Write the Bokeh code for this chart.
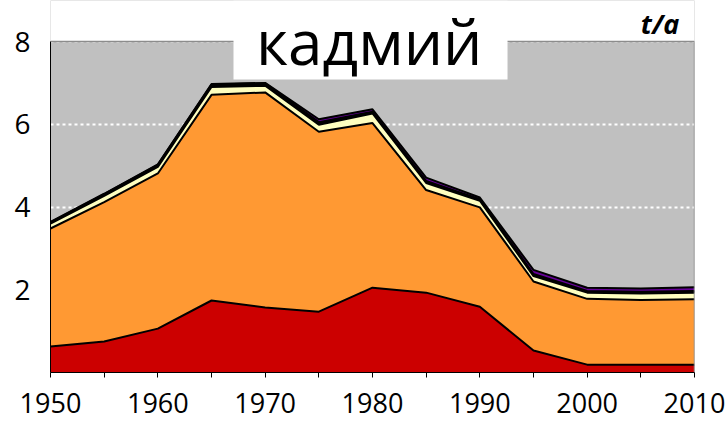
from bokeh.plotting import figure
from bokeh.models import ColumnDataSource, FixedTicker, Label, Range1d
from bokeh.embed import file_html
from bokeh.resources import INLINE

# ---- data (t/a) ----
years = [1950, 1955, 1960, 1965, 1970, 1975, 1980, 1985, 1990, 1995, 2000, 2005, 2010]
red = [0.63, 0.75, 1.06, 1.74, 1.57, 1.47, 2.05, 1.93, 1.59, 0.53, 0.19, 0.19, 0.19]
orange = [2.85, 3.37, 3.75, 4.97, 5.20, 4.35, 3.98, 2.48, 2.40, 1.67, 1.59, 1.56, 1.58]
cream = [0.12, 0.15, 0.16, 0.19, 0.16, 0.17, 0.23, 0.17, 0.16, 0.13, 0.15, 0.16, 0.16]
black = [0.03, 0.04, 0.05, 0.06, 0.06, 0.06, 0.04, 0.05, 0.04, 0.05, 0.04, 0.04, 0.04]
purple = [0.01, 0.01, 0.01, 0.01, 0.01, 0.07, 0.06, 0.08, 0.04, 0.10, 0.08, 0.08, 0.09]

x_ticks = [1950, 1955, 1960, 1965, 1970, 1975, 1980, 1985, 1990, 1995, 2000, 2005, 2010]
x_labels = ["1950", "", "1960", "", "1970", "", "1980", "", "1990", "", "2000", "", "2010"]
y_ticks = [2, 4, 6, 8]

title_text = "кадмий"
unit_text = "t/a"

names = ["red", "orange", "cream", "black", "purple"]
fills = ["#CC0000", "#FF9933", "#FFFFC0", "#000000", "#660099"]

X0, X1 = years[0], years[-1]
YTOP = y_ticks[-1]
FRAME_H = 372
PLOT_H = 331
Y_END = YTOP * FRAME_H / PLOT_H   # white strip above the plot area belongs to the frame

source = ColumnDataSource(dict(year=years, red=red, orange=orange, cream=cream,
                               black=black, purple=purple))

p = figure(frame_width=644, frame_height=FRAME_H,
           min_border_left=50, min_border_right=32, min_border_top=0, min_border_bottom=52,
           x_range=Range1d(X0, X1), y_range=Range1d(0, Y_END),
           output_backend="svg", toolbar_location=None)

p.background_fill_color = "#C0C0C0"
p.border_fill_color = "white"
p.outline_line_color = None

# white strip above the plotting area
p.quad(left=X0, right=X1, bottom=YTOP, top=Y_END, fill_color="white", line_color=None)

p.varea_stack(names, x="year", color=fills, source=source)
p.vline_stack(names, x="year", color=["black"] * 5, line_width=2, source=source)

# plot-area border (top, right)
p.line(x=[X0, X1, X1], y=[YTOP, YTOP, 0], line_color="#8C8C8C", line_width=1.5)

# title box
p.quad(left=1967.05, right=1992.58, bottom=7.08, top=Y_END, fill_color="white", line_color=None)

# grid
p.xgrid.visible = False
p.ygrid.ticker = FixedTicker(ticks=y_ticks)
p.ygrid.grid_line_color = "white"
p.ygrid.grid_line_width = 2
p.ygrid.grid_line_dash = "3 3"

# axes
p.xaxis.ticker = FixedTicker(ticks=x_ticks)
p.xaxis.major_label_overrides = {t: l for t, l in zip(x_ticks, x_labels)}
p.xaxis.major_tick_out = 5
p.xaxis.major_tick_in = 0
p.xaxis.minor_tick_line_color = None
p.xaxis.axis_line_color = "black"
p.xaxis.major_tick_line_color = "black"
p.xaxis.major_label_text_font = "Open Sans"
p.xaxis.major_label_text_font_size = "27px"
p.xaxis.major_label_text_color = "black"
p.xaxis.major_label_standoff = 15

p.yaxis.ticker = FixedTicker(ticks=y_ticks)
p.yaxis.bounds = (0, YTOP)
p.yaxis.major_tick_out = 0
p.yaxis.major_tick_in = 0
p.yaxis.minor_tick_line_color = None
p.yaxis.axis_line_color = "black"
p.yaxis.major_label_text_font = "Open Sans"
p.yaxis.major_label_text_font_size = "28px"
p.yaxis.major_label_text_color = "black"
p.yaxis.major_label_standoff = 20

p.add_layout(Label(x=1979.7, y=8.01, text=title_text, text_align="center",
                   text_baseline="alphabetic", text_font="Open Sans",
                   text_font_size="62px", text_color="black"))
p.add_layout(Label(x=2005.0, y=8.44, text=unit_text, text_align="left",
                   text_baseline="alphabetic", text_font="Open Sans",
                   text_font_style="bold italic", text_font_size="27px",
                   text_color="black"))

open("out.html", "w").write(file_html(p, INLINE))
